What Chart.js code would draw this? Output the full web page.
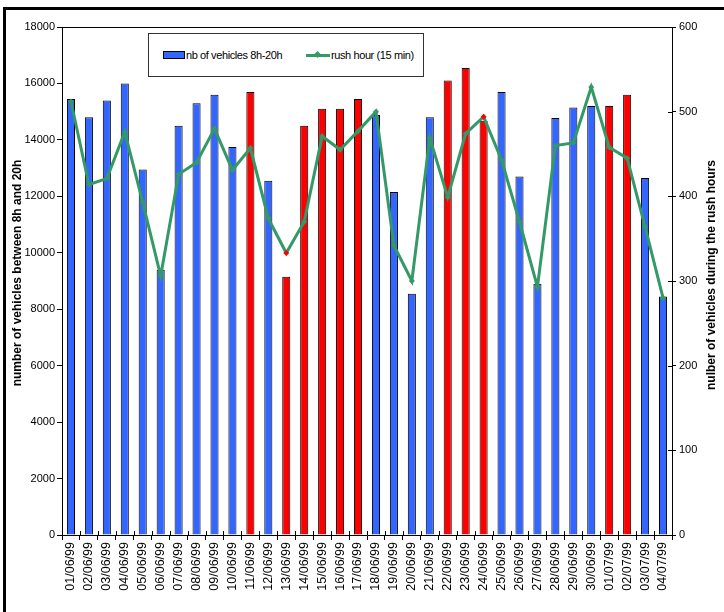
<!DOCTYPE html>
<html>
<head>
<meta charset="utf-8">
<script src="https://cdn.jsdelivr.net/npm/chart.js@4.4.1/dist/chart.umd.min.js"></script>
<style>
  html, body { margin: 0; padding: 0; background: #fff; overflow: hidden; }
  body { width: 724px; height: 612px; position: relative; font-family: "Liberation Sans", Arial, sans-serif; }
  #frame { position: absolute; left: 3px; top: 7px; width: 740px; height: 640px; border: 3px solid #000; box-sizing: border-box; pointer-events: none; }
  #legend { position: absolute; left: 148px; top: 33px; width: 276px; height: 44px; border: 1px solid #333; background: #fff; box-sizing: border-box; font-size: 11px; letter-spacing: -0.4px; color: #000; }
  .item { position: absolute; top: 14px; height: 14px; line-height: 14px; white-space: nowrap; }
  .box { display: inline-block; width: 20px; height: 6px; background: #3366ff; border: 1px solid #000; vertical-align: middle; margin-right: 1px; margin-top: -2px; }
  .ln { display: inline-block; width: 24px; height: 3px; background: #339966; vertical-align: middle; position: relative; margin-right: 1px; margin-top: -2px; }
  .ln i { position: absolute; left: 9px; top: -2px; width: 5px; height: 5px; background: #339966; transform: rotate(45deg); }
</style>
</head>
<body>
<canvas id="chart" width="724" height="612"></canvas>
<div id="frame"></div>
<div id="legend">
  <div class="item" style="left:14px"><span class="box"></span>nb of vehicles 8h-20h</div>
  <div class="item" style="left:157px"><span class="ln"><i></i></span>rush hour (15 min)</div>
</div>
<script>
const days = ['01/06/99', '02/06/99', '03/06/99', '04/06/99', '05/06/99', '06/06/99', '07/06/99', '08/06/99',
  '09/06/99', '10/06/99', '11/06/99', '12/06/99', '13/06/99', '14/06/99', '15/06/99', '16/06/99', '17/06/99',
  '18/06/99', '19/06/99', '20/06/99', '21/06/99', '22/06/99', '23/06/99', '24/06/99', '25/06/99', '26/06/99',
  '27/06/99', '28/06/99', '29/06/99', '30/06/99', '01/07/99', '02/07/99', '03/07/99', '04/07/99'];

// vehicles counted between 8h and 20h
const vehicles8to20 = [15450, 14800, 15400, 16000, 12950, 9400, 14500, 15300, 15600, 13750, 15700, 12550,
  9150, 14500, 15100, 15100, 15450, 14880, 12150, 8550, 14800, 16100, 16550, 14680, 15700, 12700, 8900,
  14780, 15150, 15200, 15200, 15600, 12650, 8450];

// vehicles during the rush hours (15 min)
const rushHour = [512, 414, 421, 476, 393, 306, 426, 440, 480, 431, 457, 374, 333, 370, 471, 455, 477,
  500, 342, 300, 469, 399, 474, 494, 443, 370, 293, 460, 463, 529, 458, 445, 364, 280];

// days drawn with red bars
const redDays = ['11/06/99', '13/06/99', '14/06/99', '15/06/99', '16/06/99', '17/06/99', '22/06/99',
  '23/06/99', '24/06/99', '01/07/99', '02/07/99'];
// days with a red marker on the rush hour line
const redPoints = ['13/06/99', '24/06/99'];

const barColors = days.map(d => redDays.includes(d) ? '#ff0000' : '#3366ff');
const pointColors = days.map(d => redPoints.includes(d) ? '#ff0000' : '#339966');

const frameTicks = {
  id: 'frameTicks',
  afterDraw(chart) {
    const ctx = chart.ctx;
    const area = chart.chartArea;
    ctx.save();
    ctx.strokeStyle = '#000';
    ctx.lineWidth = 1;
    // top edge of the plot
    ctx.beginPath();
    ctx.moveTo(area.left, area.top + 0.5);
    ctx.lineTo(area.right, area.top + 0.5);
    ctx.stroke();
    // inner halves of crossing ticks on x and right axis
    ctx.beginPath();
    for (let i = 0; i <= days.length; i++) {
      const px = Math.round(area.left + i * (area.right - area.left) / days.length) + 0.5;
      ctx.moveTo(px, area.bottom);
      ctx.lineTo(px, area.bottom - 4);
    }
    const y1 = chart.scales.y1;
    y1.ticks.forEach(t => {
      const py = Math.round(y1.getPixelForValue(t.value)) + 0.5;
      ctx.moveTo(area.right, py);
      ctx.lineTo(area.right - 4, py);
    });
    ctx.stroke();

    // axis titles
    ctx.fillStyle = '#000';
    ctx.font = 'bold 12px "Liberation Sans", Arial, sans-serif';
    ctx.textAlign = 'center';
    ctx.textBaseline = 'middle';
    ctx.save();
    ctx.translate(18, (area.top + area.bottom) / 2 - 8);
    ctx.rotate(-Math.PI / 2);
    ctx.fillText('number of vehicles between 8h and 20h', 0, 0);
    ctx.restore();
    ctx.save();
    ctx.translate(712, 275);
    ctx.rotate(-Math.PI / 2);
    ctx.fillText('nulber of vehicles during the rush hours', 0, 0);
    ctx.restore();
    ctx.restore();
  }
};

Chart.defaults.font.family = '"Liberation Sans", Arial, sans-serif';
Chart.defaults.font.size = 11;
Chart.defaults.color = '#000';

new Chart(document.getElementById('chart').getContext('2d'), {
  type: 'bar',
  data: {
    labels: days,
    datasets: [{
      type: 'line',
      label: 'rush hour (15 min)',
      data: rushHour,
      yAxisID: 'y1',
      borderColor: '#339966',
      borderWidth: 3,
      pointStyle: 'rectRot',
      pointRadius: 3,
      pointBackgroundColor: pointColors,
      pointBorderColor: pointColors,
      pointBorderWidth: 0,
      tension: 0,
      fill: false,
      order: 0
    }, {
      label: 'nb of vehicles 8h-20h',
      data: vehicles8to20,
      yAxisID: 'y',
      backgroundColor: barColors,
      borderColor: '#000',
      borderWidth: 1,
      barPercentage: 0.9,
      categoryPercentage: 0.5,
      order: 1
    }]
  },
  options: {
    responsive: false,
    animation: false,
    layout: {padding: {top: 27, left: 0, right: 0, bottom: 0}},
    plugins: {legend: {display: false}, tooltip: {enabled: false}},
    scales: {
      x: {
        offset: true,
        grid: {display: true, drawOnChartArea: false, offset: true, color: '#000', tickLength: 5},
        border: {color: '#000'},
        ticks: {minRotation: 90, maxRotation: 90, autoSkip: false, padding: 2, font: {size: 12.5}},
        afterFit: s => { s.height = 77; }
      },
      y: {
        position: 'left',
        min: 0, max: 18000,
        ticks: {stepSize: 2000, padding: 2, callback: v => String(v)},
        grid: {drawOnChartArea: false, color: '#000', tickLength: 5},
        border: {color: '#000'},
        afterFit: s => { s.width = 62; }
      },
      y1: {
        position: 'right',
        min: 0, max: 600,
        ticks: {stepSize: 100, padding: 3, callback: v => String(v)},
        grid: {drawOnChartArea: false, color: '#000', tickLength: 4},
        border: {color: '#000'},
        afterFit: s => { s.width = 52; }
      }
    }
  },
  plugins: [frameTicks]
});
</script>
</body>
</html>
